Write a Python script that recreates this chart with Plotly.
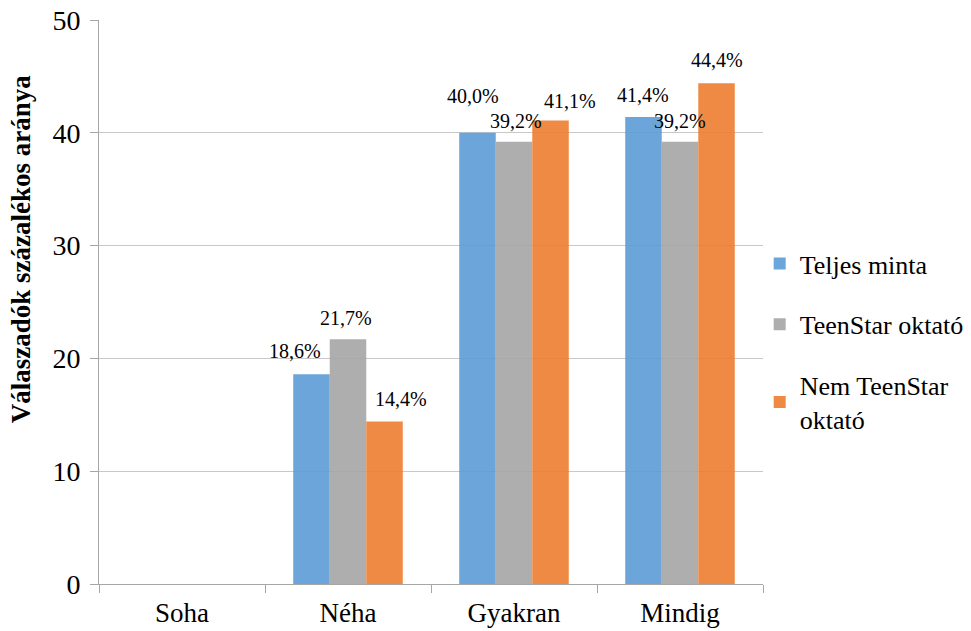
import plotly.graph_objects as go

categories = ["Soha", "Néha", "Gyakran", "Mindig"]
series_names = ["Teljes minta", "TeenStar oktató", "Nem TeenStar<br>oktató"]
teljes_minta = [0, 18.6, 40.0, 41.4]
teenstar = [0, 21.7, 39.2, 39.2]
nem_teenstar = [0, 14.4, 41.1, 44.4]
y_ticks = [0, 10, 20, 30, 40, 50]
y_title = "Válaszadók százalékos aránya"

series_values = [teljes_minta, teenstar, nem_teenstar]
colors = ["rgba(91,155,213,0.9)", "rgba(165,165,165,0.9)", "rgba(237,125,49,0.9)"]

# label placement tweaks (style only): extra x offset in category units, y offset in px
LABEL_DX = [[0, -0.10, -0.025, 0], [0, -0.01, 0.01, 0], [0, 0.10, 0.115, 0]]
LABEL_DY = [[0, 23, 37, 22], [0, 21, 21, 21], [0, 23, 19, 23]]

FONT = "Liberation Serif"
BARGAP = 0.34
bar_w = (1 - BARGAP) / 3

fig = go.Figure()
for k, (name, vals) in enumerate(zip(series_names, series_values)):
    fig.add_trace(go.Bar(
        x=categories, y=vals, name=name,
        marker=dict(color=colors[k], line=dict(width=0)),
        legendgroup=f"g{k}",
    ))

annotations = []
for k, vals in enumerate(series_values):
    for i, v in enumerate(vals):
        if v == 0:
            continue
        annotations.append(dict(
            x=i + (k - 1) * bar_w + LABEL_DX[k][i], y=v, xref="x", yref="y",
            text=f"{v:.1f}".replace(".", ",") + "%",
            showarrow=False, yanchor="middle", xanchor="center",
            yshift=LABEL_DY[k][i],
            font=dict(family=FONT, size=20, color="#000000"),
        ))

annotations.append(dict(
    x=-0.117, y=0.594, xref="paper", yref="paper",
    text=f"<b>{y_title}</b>", textangle=-90, showarrow=False,
    xanchor="center", yanchor="middle",
    font=dict(family=FONT, size=27, color="#000000"),
))

fig.update_layout(
    width=971, height=631,
    margin=dict(l=99, r=208, t=20, b=47, autoexpand=False),
    paper_bgcolor="white", plot_bgcolor="white",
    barmode="group", bargap=BARGAP, bargroupgap=0,
    font=dict(family=FONT, color="#000000"),
    showlegend=True,
    legend=dict(
        x=0.995, y=0.43, xanchor="left", yanchor="middle",
        font=dict(family=FONT, size=26, color="#000000"),
        tracegroupgap=24, bgcolor="rgba(0,0,0,0)",
    ),
    annotations=annotations,
    xaxis=dict(
        type="category", tickson="boundaries", ticks="outside", ticklen=8,
        tickcolor="#A6A6A6", showline=True, linecolor="#A6A6A6", linewidth=1,
        showgrid=False, tickfont=dict(family=FONT, size=27, color="#000000"),
        range=[-0.5, 3.5], automargin=False, ticklabelstandoff=5,
    ),
    yaxis=dict(
        range=[0, 50], tickvals=y_ticks, ticks="outside", ticklen=8,
        tickcolor="#A6A6A6", showline=True, linecolor="#A6A6A6", linewidth=1,
        showgrid=True, gridcolor="#C8C8C8", gridwidth=1, zeroline=False,
        tickfont=dict(family=FONT, size=28, color="#000000"), automargin=False,
        ticklabelstandoff=4,
    ),
)

fig.write_html("out.html", post_script="document.body.style.margin='0';",
               config={"displayModeBar": False})
